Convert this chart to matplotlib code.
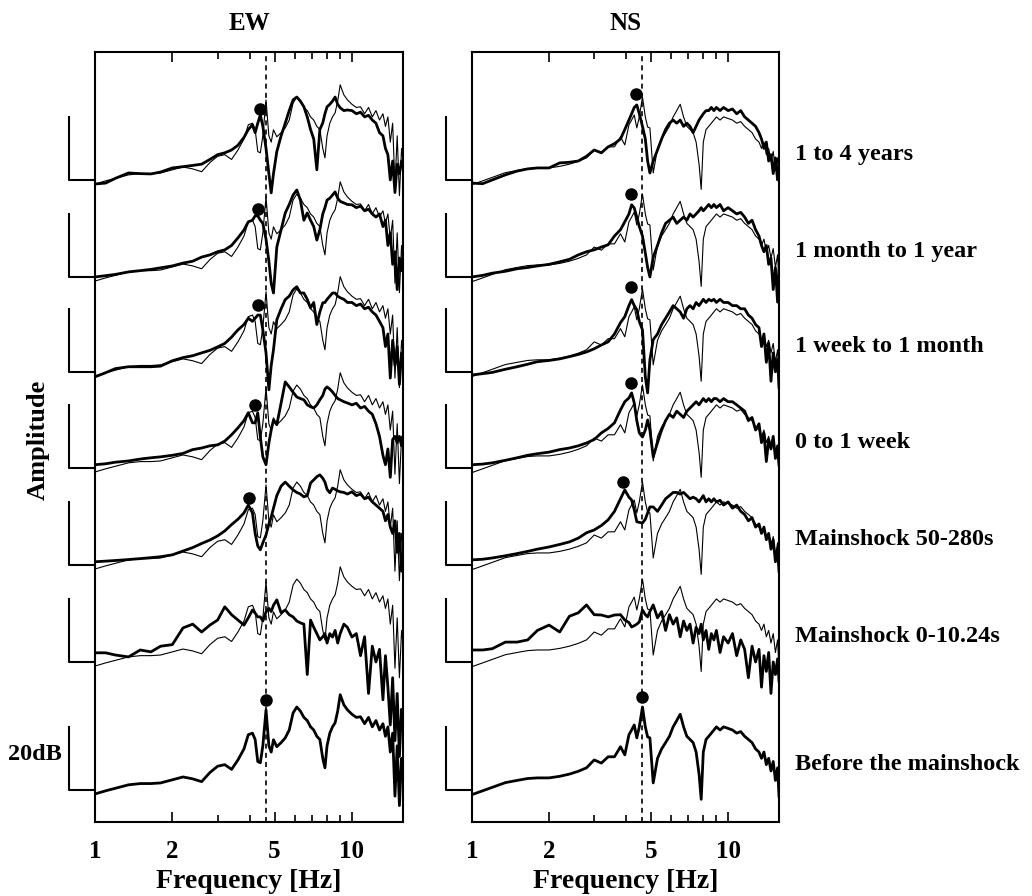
import numpy as np
import matplotlib
matplotlib.use("Agg")
import matplotlib.pyplot as plt
import matplotlib.transforms as mtransforms
from matplotlib.ticker import FixedLocator, NullFormatter

plt.rcParams['font.family'] = ['Liberation Serif', 'DejaVu Serif']
plt.rcParams['font.weight'] = 'bold'

# --- Data (dB above each trace's 20dB-bracket baseline) ---
freq = [1.0, 1.1, 1.2, 1.35, 1.5, 1.65, 1.8, 2.0, 2.2, 2.4, 2.6, 2.8, 3.0, 3.2, 3.4, 3.6,
        3.8, 3.95, 4.1, 4.2, 4.3, 4.4, 4.5, 4.63, 4.75, 4.85, 4.95, 5.1, 5.3, 5.5, 5.7, 5.9,
        6.1, 6.3, 6.5, 6.7, 6.9, 7.1, 7.3, 7.5, 7.7, 7.85, 8.0, 8.2, 8.4, 8.6, 8.8, 9.0,
        9.3, 9.6, 10.0, 10.4, 10.8, 11.2, 11.6, 12.0, 12.4, 12.8, 13.2, 13.5, 13.8, 14.1,
        14.4, 14.7, 15.0, 15.3, 15.6, 15.8]

labels = ['1 to 4 years', '1 month to 1 year', '1 week to 1 month', '0 to 1 week',
          'Mainshock 50-280s', 'Mainshock 0-10.24s', 'Before the mainshock']
baselines = [203.8, 173.0, 142.9, 112.4, 81.6, 50.8, 10.2]

# reference spectrum (before the mainshock), drawn thin under every trace
ew_ref = [-1.3, -0.3, 0.5, 1.6, 2.0, 2.0, 2.2, 3.2, 4.1, 3.5, 2.6, 5.5, 7.5, 8.0, 6.5, 9.5,
          13, 17.5, 18.0, 16, 9, 8.6, 14, 25.4, 14, 12, 15.9, 13.7, 15, 16.5, 19, 24.4,
          26.3, 25, 23, 22, 20, 19, 17, 16, 10, 7, 14, 18, 20, 21.3, 25, 30.2,
          27, 25.4, 24, 23, 23.2, 21, 23, 20, 22, 19, 21, 17, 20, 12,
          18, -2, 14, -5, 10, 6]
ns_ref = [-1.5, -0.3, 0.8, 2.3, 3.0, 3.6, 3.8, 3.8, 4.3, 5.0, 5.9, 7.0, 9.5, 8.5, 10.5, 10.5,
          13.7, 11.1, 17.5, 19, 20.6, 16.5, 20, 26.3, 20, 16.8, 16.5, 2.2, 10, 13, 15, 17,
          20, 22, 24, 20, 17, 16, 15, 12, 5, -3, 12, 16, 17, 18, 19, 20,
          19, 20, 19.5, 19, 18, 18.5, 17, 16, 15, 13, 12, 10, 12, 8,
          10, 6, 9, 3, 7, -2]

ew_14y = [-1.3, -1, 0.5, 2.2, 2.0, 1.9, 2.5, 3.8, 4.2, 4.6, 5.0, 6.5, 8.0, 8.6, 9.5, 11,
          13.5, 16, 17.5, 15, 18, 20.6, 17, 10, 2, -4.1, 2, 9, 14, 18, 22, 25.4,
          26.3, 25, 23.2, 20, 16, 13, 3.2, 16, 18.1, 21, 23.2, 24, 25, 26.3, 24, 22.9,
          22, 22.2, 22, 21, 21.5, 20, 20.5, 19, 18, 15, 14, 10, 8, 0,
          6, -4, 5, 2, 6, 4]
ew_1m1y = [0, 0.4, 0.8, 1.6, 2.0, 2.4, 2.9, 3.5, 4.4, 5.0, 6.3, 7.0, 8.0, 8.6, 10, 12.4,
           14.9, 17.5, 18, 19.4, 19.4, 18, 17, 12, 5, -2, -5.1, 9.5, 15, 20.3, 23, 26,
           27.6, 24.4, 18, 20.3, 18, 16, 11.7, 15, 20, 22, 24.4, 25, 26, 27, 25, 24,
           23.5, 23, 22.9, 22, 22.5, 21, 21.5, 20, 19, 20, 16, 18, 10, 14,
           4, 8, -4, 6, 2, 8]
ew_1w1m = [-1.6, -0.3, 1.0, 1.6, 1.6, 1.6, 1.8, 3.5, 4.5, 5.1, 6.0, 6.8, 7.9, 9, 11, 13.3,
           15, 17, 16, 17, 18, 18, 13.3, 6, -5.7, 2, 7, 16.5, 20, 22.9, 24, 26,
           27, 25, 25, 23, 20.3, 22, 15, 19, 21.9, 22, 23, 24, 25, 25, 24, 23.5,
           23, 22, 22, 21, 21.5, 20, 20.5, 19, 18, 16, 14, 8, 12, -2,
           10, 2, 8, -4, 6, 4]
ew_0w1w = [1.0, 1.3, 1.8, 2.2, 2.8, 3.2, 3.5, 4.0, 4.6, 5.8, 6.3, 7.0, 7.3, 8.5, 10.5, 12.7,
           15, 17.5, 14.3, 14.3, 17.5, 9.8, 3.5, 1, 7.9, 12, 15.2, 13.7, 20.6, 27.3, 25.7, 24,
           22.5, 22, 21.6, 20, 19.4, 19, 20, 21.6, 23, 25, 25.7, 25, 24.1, 23, 22, 21.6,
           21, 20.6, 20, 20.5, 19, 19.5, 18, 17, 14, 10, 4, 1, 6, -3,
           9, 10, 8, 10, 7, 9]
ew_ms50 = [1.0, 1.2, 1.4, 1.7, 2.0, 2.3, 2.6, 3.2, 4.4, 5.5, 6.8, 7.9, 9.2, 10.8, 12.8, 14.5,
           16.5, 19, 16.5, 10, 6, 4.8, 7, 9.5, 13, 15.2, 18, 22, 25, 26.3, 25, 23.8,
           23, 22.5, 21.6, 22, 26, 27, 28, 28.6, 27.5, 26.3, 24, 22.9, 24.4, 24, 23.5, 23.2,
           23, 22.5, 23.2, 22, 22.5, 21, 21.5, 20, 19, 18, 17, 14, 16, 12,
           10, 14, 4, 10, -2, 2]
ew_ms0 = [2.9, 2.9, 2.2, 1.6, 3.8, 3.2, 5.0, 5.5, 10.8, 12.0, 9.5, 11.7, 13.3, 17.5, 15.0, 13.3,
          11.7, 14, 16.5, 15.5, 14.3, 14.3, 13, 15.9, 17, 16, 18, 19.7, 15.6, 16.5, 15, 14.3,
          13, 12.4, 12, -4, 13.3, 11, 9, 7, 8, 9, 6, 9, 7.9, 10, 6, 9,
          12, 11, 7.9, 9, 2, 8, -10, 5, 0, 4, -12, 2, -8, -20,
          -5, -25, -10, -30, -15, -20]

ns_14y = [-1, -1.2, 0, 1.6, 2.8, 3.5, 3.8, 3.8, 5.4, 5.6, 6.0, 7.5, 9.5, 8.6, 10.5, 11.5,
          13, 16, 19, 21, 23, 23.8, 21, 17, 13, 6, 2.2, 6, 9.5, 13, 16, 18,
          19, 18, 19, 17, 18, 17, 15, 17, 19, 20, 21, 22, 22, 23, 22, 23,
          22, 23, 22, 22.5, 21, 22, 20, 19, 18, 17, 15, 13, 10, 12,
          6, 8, 2, 7, 0, 4]
ns_1m1y = [0, 0.5, 1.2, 1.8, 2.6, 3.0, 3.5, 4.0, 4.8, 5.6, 7, 8, 8.6, 9.5, 10.2, 13,
           15, 17.5, 20, 22.9, 21.9, 19, 16, 13, 7.6, 3, 0, 6.3, 10, 14, 17, 18,
           19, 17, 18, 19, 18, 20, 19, 20, 21, 22, 21, 22, 23, 22, 23, 22,
           23, 21, 22, 21, 20, 20.5, 19, 17, 18, 15, 13, 10, 8, 10,
           4, 6, -4, 3, -8, 2]
ns_1w1m = [-1, -0.6, -0.2, 0.8, 1.6, 2.4, 3.2, 3.6, 4.1, 4.8, 5.5, 6.3, 7.3, 8.5, 9.5, 12,
           15.6, 17.5, 21, 22.9, 21, 19.7, 16, 13.3, -1.6, -6.7, 3.8, 10.2, 12, 15, 17, 19,
           21, 20, 19, 17, 20, 21, 20, 22, 21, 22, 23, 22, 23, 22.5, 23, 22,
           23, 22, 22, 21, 21, 20, 20, 18, 17, 15, 14, 8, 12, 3,
           9, -3, 6, 0, 4, -5]
ns_0w1w = [1, 1.2, 1.6, 2.4, 3.2, 4.0, 4.5, 5.0, 5.8, 6.3, 7.0, 7.9, 9, 11.1, 12.5, 14.3,
           18.4, 21, 22.2, 23.8, 20.6, 15, 11.1, 9.8, 12, 15.2, 12, 3.5, 8, 12, 15, 17,
           16, 18, 17, 16, 18, 19, 20, 21, 20, 21, 22, 21, 22, 21, 22, 22,
           21, 22, 21, 21, 20, 19, 18, 15, 16, 12, 14, 8, 11, 2,
           9, 6, 10, 3, 7, 1]
ns_ms50 = [1.6, 1.8, 2.2, 2.9, 3.6, 4.3, 5.0, 5.7, 6.5, 7.3, 8.5, 10.2, 11.1, 12.5, 14.3, 17,
           21, 23.8, 21.5, 20.6, 17.5, 13.7, 13.5, 13.3, 14.5, 16.5, 18.4, 18.4, 17, 19, 21, 22,
           23, 23, 22.5, 23, 22, 21, 21.5, 21, 20, 21, 22, 20, 21, 20, 21, 20,
           20.5, 19, 20, 18, 19, 17, 16, 14, 15, 12, 13, 10, 12, 8,
           10, 5, 8, 1, 5, -2]
ns_ms0 = [3.8, 3.8, 4.2, 6.3, 6.3, 7.0, 10, 11.7, 9.5, 14.5, 15.6, 18.1, 15, 14.9, 14.3, 14.9,
          15, 13.3, 12.5, 11.1, 11.5, 12, 12.7, 16.5, 15, 14.3, 16, 18.1, 14, 16, 10, 15,
          12, 14, 8, 13, 10, 12, 6, 11, 9, 12, 7, 10, 4, 9, 7, 10,
          3, 8, 6, 9, 2, 7, 4, -5, 5, 0, 4, -8, 2, -3,
          3, -10, 0, -4, 1, -6]

# peak markers: (frequency, dB above baseline), None where no marker
ew_peak_f = [4.39, 4.31, 4.31, 4.19, 3.97, None, 4.63]
ew_peak_db = [22.5, 21.6, 21.3, 20.0, 21.3, None, 28.6]
ns_peak_f = [4.35, 4.19, 4.19, 4.16, 3.87, None, 4.63]
ns_peak_db = [27.3, 26.3, 27.0, 27.0, 26.3, None, 29.5]

f_reference_line = 4.63

panels = [
    ('EW', ew_ref, [ew_14y, ew_1m1y, ew_1w1m, ew_0w1w, ew_ms50, ew_ms0], ew_peak_f, ew_peak_db),
    ('NS', ns_ref, [ns_14y, ns_1m1y, ns_1w1m, ns_0w1w, ns_ms50, ns_ms0], ns_peak_f, ns_peak_db),
]

fig = plt.figure(figsize=(10.32, 8.96), dpi=100)
axes_rects = [[95 / 1032, 74 / 896, 308 / 1032, 770 / 896],
              [472 / 1032, 74 / 896, 307 / 1032, 770 / 896]]

for (name, ref, thick, pk_f, pk_db), rect in zip(panels, axes_rects):
    ax = fig.add_axes(rect)
    trans = mtransforms.blended_transform_factory(ax.transAxes, ax.transData)

    for i, base in enumerate(baselines):
        if i < 6:
            ax.plot(freq, np.array(ref) + base, color='black', lw=0.8)
            ax.plot(freq, np.array(thick[i]) + base, color='black', lw=2.0)
        else:
            ax.plot(freq, np.array(ref) + base, color='black', lw=2.0)
        if pk_f[i] is not None:
            ax.plot(pk_f[i], pk_db[i] + base, 'o', color='black', ms=8)
        # 20 dB scale bracket left of the axes
        ax.plot([-0.084, -0.084, 0.0], [base + 20, base, base], color='black', lw=1.5,
                transform=trans, clip_on=False)
        if name == 'NS':
            ax.text(1.052, base + 8, labels[i], transform=trans, fontsize=17.5,
                    fontweight='bold', va='center', ha='left')

    ax.axvline(f_reference_line, color='black', lw=1.2, ls=(0, (3, 2.5)))

    ax.set_xscale('log')
    ax.set_xlim(1, 15.8)
    ax.set_ylim(0, 244.4)
    ax.set_yticks([])
    ax.xaxis.set_major_locator(FixedLocator([1, 2, 5, 10]))
    ax.xaxis.set_minor_locator(FixedLocator([3, 4, 6, 7, 8, 9]))
    ax.xaxis.set_minor_formatter(NullFormatter())
    ax.set_xticklabels(['1', '2', '5', '10'])
    ax.tick_params(axis='x', which='both', direction='in', top=True, labelsize=18, pad=13)
    ax.tick_params(axis='x', which='major', length=7, width=1.2)
    ax.tick_params(axis='x', which='minor', length=5, width=1.2)
    for s in ax.spines.values():
        s.set_linewidth(1.5)
    ax.set_xlabel('Frequency [Hz]', fontsize=20, fontweight='bold', labelpad=4)
    ax.set_title(name, fontsize=18, fontweight='bold', pad=16)

    if name == 'EW':
        ax.text(-0.195, 21.3, '20dB', transform=trans, fontsize=17.5, fontweight='bold',
                ha='center', va='center')

fig.text(38 / 1032, 1 - 440 / 896, 'Amplitude', rotation=90, fontsize=19,
         fontweight='bold', ha='center', va='center')

fig.savefig('out.png', dpi=100)
